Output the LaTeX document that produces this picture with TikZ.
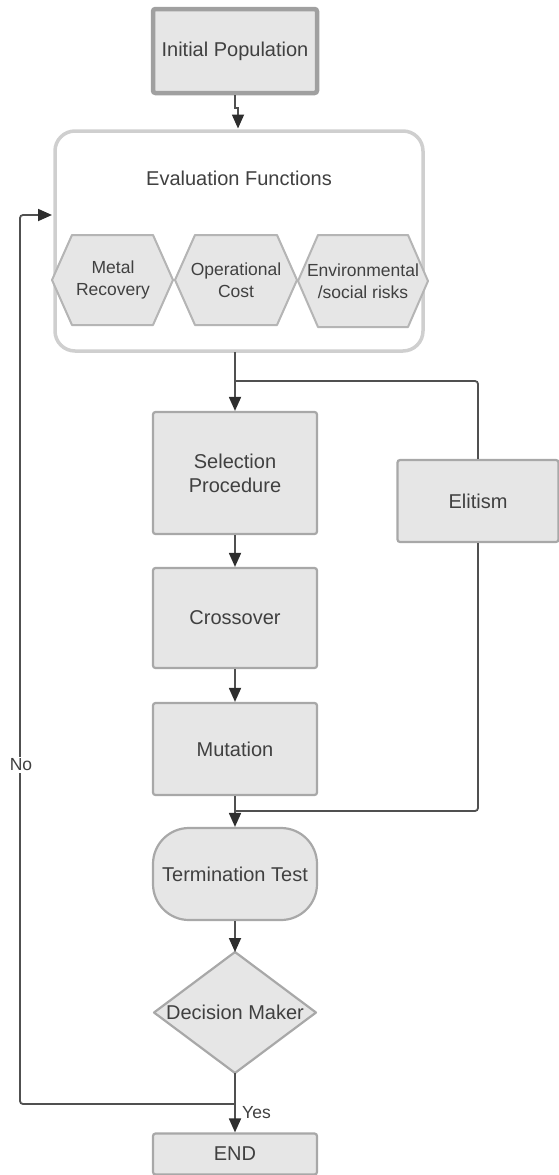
\documentclass[tikz,border=0pt]{standalone}
\usepackage{fontspec}
\setmainfont{Liberation Sans}
\usetikzlibrary{arrows.meta,shapes.geometric}
\definecolor{boxfill}{HTML}{E6E6E6}
\definecolor{boxline}{HTML}{A8A8A8}
\definecolor{ipline}{HTML}{A0A0A0}
\definecolor{evline}{HTML}{CFCFCF}
\definecolor{hexline}{HTML}{B5B5B5}
\definecolor{txt}{HTML}{404040}
\definecolor{conncol}{HTML}{505050}
\definecolor{tipcol}{HTML}{2E2E2E}
\tikzset{
  stdbox/.style={draw=boxline, line width=2.2pt, fill=boxfill, rounded corners=2.5pt,
    text=txt, font=\fontsize{20}{24}\selectfont, align=center, inner sep=0pt},
  lbl/.style={text=txt, font=\fontsize{20}{24}\selectfont, align=center, inner sep=0pt},
  hexlbl/.style={text=txt, font=\fontsize{17.5}{21.5}\selectfont, align=center, inner sep=0pt},
  hexshape/.style={draw=hexline, line width=2pt, fill=boxfill, line join=round},
  conn/.style={draw=conncol, line width=1.8pt},
  arr/.style={-{Triangle[length=14pt,width=12pt,color=tipcol]}},
  small/.style={text=txt, font=\fontsize{17.5}{20}\selectfont, inner sep=2pt}
}
\begin{document}
\begin{tikzpicture}[x=1pt,y=-1pt]
\useasboundingbox (0,0) rectangle (558,1175);
% Initial population
\node[stdbox, draw=ipline, line width=4.5pt, minimum width=164pt, minimum height=84pt] (ip) at (235,51) {Initial Population};
% Evaluation container
\node[draw=evline, line width=3.5pt, fill=white, rounded corners=20pt, minimum width=368pt, minimum height=220pt] (ev) at (239,241) {};
\node[lbl] (evt) at (239,178) {Evaluation Functions};
% Hexagons
\draw[hexshape] (52,280) -- (72,235) -- (153,235) -- (173,280) -- (153,325) -- (72,325) -- cycle;
\draw[hexshape] (175,280) -- (195,235) -- (277,235) -- (297,280) -- (277,325) -- (195,325) -- cycle;
\draw[hexshape] (298,281) -- (318,235) -- (408,235) -- (428,281) -- (408,327) -- (318,327) -- cycle;
\node[hexlbl] (h1) at (113,280) {Metal\\Recovery};
\node[hexlbl] (h2) at (236,280) {Operational\\Cost};
\node[hexlbl] (h3) at (363,281) {Environmental\\/social risks};
% Main boxes
\node[stdbox, minimum width=164pt, minimum height=122pt] (sel) at (235,473) {Selection\\Procedure};
\node[stdbox, minimum width=161pt, minimum height=82pt] (eli) at (478,501) {Elitism};
\node[stdbox, minimum width=164pt, minimum height=100pt] (cro) at (235,618) {Crossover};
\node[stdbox, minimum width=164pt, minimum height=92pt] (mut) at (235,749) {Mutation};
\node[stdbox, rounded corners=36pt, minimum width=164pt, minimum height=92pt] (term) at (235,874) {Termination Test};
% Decision diamond
\coordinate (dtop) at (235,952);
\coordinate (dbot) at (235,1073);
\draw[hexshape, draw=boxline, line width=2.2pt] (dtop) -- (316,1012.5) -- (dbot) -- (154,1012.5) -- cycle;
\node[lbl] (dec) at (235,1012.5) {Decision Maker};
% END
\node[stdbox, minimum width=164pt, minimum height=41pt] (endn) at (235,1154) {END};
% Connectors
\coordinate (ipj) at (235,108);
\draw[conn, arr] (ip.south) -- (ipj) -- (238,108) -- (238,128.5);
\coordinate (evout) at (235,352);
\draw[conn, arr] (evout) -- (sel.north);
\coordinate (sj) at (235,381);
\draw[conn, rounded corners=3pt] (sj) -| (eli.north);
\draw[conn, arr] (sel.south) -- (cro.north);
\draw[conn, arr] (cro.south) -- (mut.north);
\coordinate (mj) at (235,811);
\draw[conn, rounded corners=3pt] (eli.south) |- (mj);
\draw[conn, arr] (mut.south) -- (term.north);
\draw[conn, arr] (term.south) -- (dtop);
\draw[conn, arr] (dbot) -- (endn.north);
\coordinate (yj) at (235,1104);
\coordinate (lp) at (20,215);
\draw[conn, arr, rounded corners=3pt] (yj) -| (lp) -- (52,215);
\node[small, fill=white] (no) at (21,765) {No};
\node[small, anchor=west] (yes) at (240,1113) {Yes};
\end{tikzpicture}
\end{document}
